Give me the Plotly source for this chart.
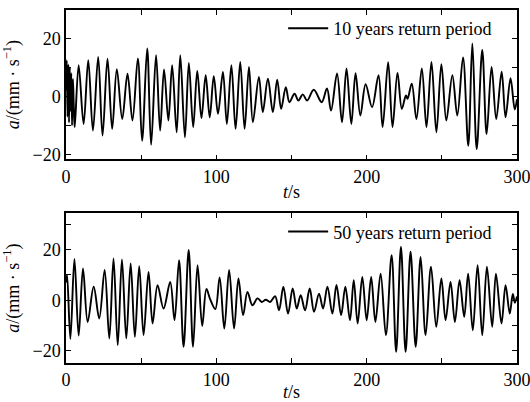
import plotly.graph_objects as go
from plotly.subplots import make_subplots

# 10 years return period: time (s) and acceleration (mm/s) at turning points
t10 = [0, 0.5, 1.0, 1.5, 2.0, 2.5, 3.0, 3.5, 4.0, 4.6, 5.2, 5.8,
       8.4, 11.7, 14.8, 17.9, 21.4, 24.3, 27.6, 30.7, 33.8, 37.4, 40.9, 44.2,
       47.8, 50.6, 54.0, 56.6, 59.9, 62.6, 65.2, 68.1, 70.6, 73.6, 76.0, 79.1,
       81.7, 84.6, 87.3, 90.1, 92.9, 95.6, 98.3, 101.1, 104.4, 107.0, 110.0,
       112.8, 115.9, 118.8, 121.7, 124.3, 128.3, 130.9, 134.3, 137.6, 140.5,
       143.1, 146.2, 148.6, 152.0, 154.6, 157.5, 160.4, 164.8, 170.1, 173.6,
       176.3, 180.3, 183.6, 186.6, 189.8, 192.6, 195.8, 199.3, 203.6, 207.9,
       210.6, 214.3, 217.2, 220.5, 223.4, 226.1, 227.2, 230.0, 233.1, 236.7,
       239.8, 243.1, 246.4, 249.7, 253.0, 257.0, 260.3, 264.1, 267.6, 270.3,
       273.2, 276.9, 279.8, 283.1, 286.2, 289.8, 292.4, 295.7, 298.5, 300]
a10 = [2, 12.5, -7, 11, -9, 10, -5, 8, -10, 6, -4, -10.6,
       10.8, -9.5, 12.5, -11.8, 13.6, -13.5, 13.0, -11.2, 9.4, -7.8, 7.8, -8.3,
       13.1, -15.3, 16.5, -16.7, 14.2, -11.8, 9.3, -8.3, 10.8, -12.4, 14.2, -14.1,
       11.5, -10.6, 8.8, -7.5, 7.3, -7.2, 7.0, -6.0, 8.4, -9.5, 10.8,
       -11.2, 11.9, -11.2, 10.2, -8.9, 6.7, -5.4, 6.1, -5.4, 5.8,
       -4.3, 3.2, -2.0, 0.9, -1.4, 0.7, -1.4, 2.3, -2.0, 2.7,
       -4.9, 7.9, -8.9, 9.6, -9.5, 8.0, -6.6, 4.2, -3.7, 7.3,
       -10.6, 11.8, -10.6, 8.1, -4.3, 0.3, -0.8, 4.4, -7.8, 9.6,
       -10.6, 11.9, -12.4, 11.1, -8.3, 7.3, -6.6, 13.4, -17.0, 18.3,
       -18.2, 16.0, -13.0, 10.2, -7.8, 8.5, -7.2, 6.3, -4.5, -1]

# 50 years return period
t50 = [0, 0.7, 2.9, 5.6, 8.4, 11.3, 14.4, 18.4, 22.1, 25.7, 28.8, 31.6, 34.4,
       37.2, 40.1, 43.0, 45.8, 48.7, 51.6, 54.9, 57.6, 60.9, 64.9, 69.3, 72.2,
       75.2, 78.2, 81.6, 84.5, 87.5, 90.6, 93.4, 95.8, 99.3, 102.2, 105.3,
       108.5, 111.8, 114.7, 117.8, 120.7, 124.0, 127.4, 130.2, 132.9, 135.8,
       139.1, 141.7, 144.6, 147.7, 150.8, 153.5, 156.1, 159.0, 162.1, 165.0,
       168.3, 171.0, 173.9, 177.2, 179.9, 183.0, 185.8, 188.9, 191.4, 194.0,
       197.1, 200.0, 203.0, 205.8, 209.3, 212.8, 216.6, 219.6, 222.8, 225.9,
       229.2, 232.6, 235.9, 239.2, 242.8, 246.3, 249.7, 252.5, 255.8, 258.7,
       261.8, 264.9, 267.5, 270.6, 273.8, 276.9, 280.0, 283.5, 286.0, 289.7,
       292.4, 295.2, 297.2, 298.6, 300]
a50 = [7, 10.0, -15.3, 16.3, -14.0, 12.5, -8.6, 5.3, -7.2, 11.9, -15.1, 16.5, -17.8,
       16.1, -15.1, 14.5, -14.5, 13.4, -13.8, 11.2, -9.2, 5.9, -3.3, 7.2, -7.9,
       15.8, -18.4, 19.8, -18.4, 13.8, -10.2, 4.4, 0.5, -3.5, 9.0, -11.2,
       11.9, -11.2, 8.6, -5.9, 3.3, -2.0, 0.7, -0.7, 0.2, -0.7,
       1.6, -4.0, 5.3, -5.3, 4.6, -3.3, 2.0, -4.0, 4.6, -4.6,
       2.6, -3.3, 5.3, -5.3, 6.0, -5.9, 5.3, -7.9, 7.9, -9.2,
       9.2, -7.9, 9.2, -8.6, 10.5, -13.8, 17.8, -20.4, 21.1, -20.4,
       19.1, -18.4, 17.1, -13.8, 13.2, -10.5, 8.6, -7.9, 7.2, -8.6,
       7.9, -6.6, 10.5, -11.9, 13.8, -13.8, 13.2, -10.5, 10.5, -9.2,
       5.9, -5.3, 2.5, -1.0, 1.5]

x_tickvals = [0, 100, 200, 300]
x_minor = [50, 150, 250]
y1_tickvals = [-20, 0, 20]
y1_minor = [-10, 10]
y2_tickvals = [-20, 0, 20]
y2_minor = [-10, 10, 30]

FONT = "Liberation Serif"

fig = make_subplots(rows=2, cols=1, vertical_spacing=0.153)

fig.add_trace(go.Scatter(x=t10, y=a10, mode="lines", name="10 years return period",
                         line=dict(color="black", width=1.9, shape="spline", smoothing=1.0),
                         legend="legend"), row=1, col=1)
fig.add_trace(go.Scatter(x=t50, y=a50, mode="lines", name="50 years return period",
                         line=dict(color="black", width=1.9, shape="spline", smoothing=1.0),
                         legend="legend2"), row=2, col=1)

tickstyle = dict(ticks="inside", ticklen=5, tickwidth=1.2, tickcolor="black")
xcommon = dict(range=[-0.01, 300.01], tickvals=x_tickvals,
               minor=dict(tickvals=x_minor, **tickstyle),
               showline=True, linecolor="black", linewidth=1.5, mirror="ticks",
               showgrid=False, zeroline=False, automargin=False,
               ticklabeloverflow="allow",
               tickfont=dict(family=FONT, size=18, color="black"),
               title=dict(text="<i>t</i>/s", font=dict(family=FONT, size=18, color="black"),
                          standoff=0),
               **tickstyle)
ycommon = dict(showline=True, linecolor="black", linewidth=1.5, mirror="ticks",
               showgrid=False, zeroline=False, automargin=False,
               tickfont=dict(family=FONT, size=18, color="black"),
               title=dict(text="<i>a</i>/(mm · s<sup>−1</sup>)",
                          font=dict(family=FONT, size=18, color="black"), standoff=14),
               **tickstyle)

fig.update_xaxes(**xcommon)
fig.update_yaxes(**ycommon)
fig.update_yaxes(range=[-21.7, 29.8], tickvals=y1_tickvals,
                 minor=dict(tickvals=y1_minor, **tickstyle), row=1, col=1)
fig.update_yaxes(range=[-24.8, 34.3], tickvals=y2_tickvals,
                 minor=dict(tickvals=y2_minor, **tickstyle), row=2, col=1)
fig.update_layout(
    yaxis=dict(domain=[0.577, 1.0]),
    yaxis2=dict(domain=[0.0, 0.424]),
)

legend_style = dict(font=dict(family=FONT, size=18, color="black"), bgcolor="rgba(0,0,0,0)",
                    borderwidth=0, xanchor="right", yanchor="top", itemwidth=40)
fig.update_layout(
    width=530, height=402,
    margin=dict(l=66, r=12.5, t=10, b=39, autoexpand=False),
    paper_bgcolor="white", plot_bgcolor="white",
    showlegend=True,
    legend=dict(x=0.956, y=1.0, **legend_style),
    legend2=dict(x=0.956, y=0.424, **legend_style),
    font=dict(family=FONT, size=18, color="black"),
)

# remove the default page margin so the 530x402 figure fills the window exactly
fig.write_html("out.html",
               config={"displayModeBar": False},
               post_script="document.body.style.margin='0';document.body.style.overflow='hidden';")
